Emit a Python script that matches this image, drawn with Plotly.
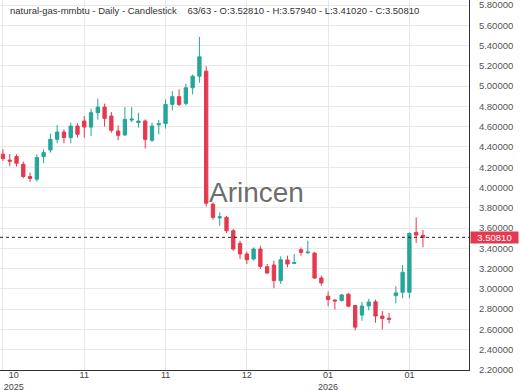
import plotly.graph_objects as go

# ---- data ----
opens = [4.328, 4.270, 4.305, 4.229, 4.108, 4.082, 4.305, 4.370, 4.475, 4.547,
         4.492, 4.606, 4.656, 4.596, 4.738, 4.793, 4.705, 4.557, 4.518, 4.665,
         4.640, 4.656, 4.466, 4.618, 4.630, 4.820, 4.896, 4.830, 4.984, 5.098,
         5.148, 3.836, 3.700, 3.705, 3.573, 3.449, 3.344, 3.294, 3.393, 3.218,
         3.235, 3.081, 3.284, 3.250, 3.386, 3.355, 3.353, 3.107, 2.927, 2.890,
         2.884, 2.947, 2.835, 2.741, 2.831, 2.872, 2.731, 2.710, 2.933, 2.966,
         2.966, 3.557, 3.5281]
highs = [4.377, 4.330, 4.328, 4.256, 4.148, 4.328, 4.377, 4.531, 4.616, 4.574,
         4.640, 4.633, 4.705, 4.778, 4.876, 4.827, 4.744, 4.613, 4.793, 4.793,
         4.738, 4.672, 4.640, 4.665, 4.869, 4.951, 4.968, 5.024, 5.115, 5.486,
         5.197, 3.852, 3.754, 3.720, 3.590, 3.474, 3.367, 3.409, 3.425, 3.245,
         3.278, 3.321, 3.327, 3.344, 3.409, 3.474, 3.360, 3.130, 2.972, 2.894,
         2.950, 2.960, 2.842, 2.872, 2.901, 2.894, 2.780, 2.764, 3.026, 3.235,
         3.557, 3.705, 3.5794]
lows = [4.262, 4.210, 4.207, 4.092, 4.055, 4.059, 4.239, 4.344, 4.436, 4.436,
        4.436, 4.492, 4.492, 4.508, 4.669, 4.600, 4.541, 4.466, 4.510, 4.646,
        4.590, 4.384, 4.449, 4.525, 4.581, 4.761, 4.803, 4.810, 4.918, 5.033,
        3.813, 3.681, 3.622, 3.550, 3.376, 3.294, 3.245, 3.278, 3.196, 3.147,
        3.006, 3.048, 3.213, 3.245, 3.327, 3.350, 3.097, 3.032, 2.829, 2.796,
        2.875, 2.819, 2.589, 2.685, 2.787, 2.665, 2.598, 2.659, 2.858, 2.907,
        2.907, 3.452, 3.4102]
closes = [4.285, 4.260, 4.239, 4.108, 4.089, 4.295, 4.344, 4.475, 4.547, 4.492,
          4.606, 4.525, 4.596, 4.738, 4.793, 4.682, 4.564, 4.515, 4.672, 4.675,
          4.656, 4.475, 4.606, 4.630, 4.820, 4.896, 4.820, 4.984, 5.098, 5.289,
          3.845, 3.705, 3.710, 3.573, 3.393, 3.344, 3.287, 3.393, 3.222, 3.156,
          3.081, 3.287, 3.245, 3.258, 3.360, 3.362, 3.107, 3.058, 2.894, 2.880,
          2.940, 2.829, 2.622, 2.831, 2.870, 2.731, 2.708, 2.700, 2.960, 3.163,
          3.547, 3.530, 3.5081]
bars = list(range(len(opens)))

grid_positions = [0, 12, 24, 36, 48, 60]
label_positions = [1.6, 12, 24, 36, 48, 60]   # first label sits inside the left edge
tick_labels = ["10<br>2025", "11", "11", "12", "01<br>2026", "01"]

y_ticks = [round(2.2 + 0.2 * k, 1) for k in range(19)]
last_close = 3.5081

title_text = ("natural-gas-mmbtu - Daily - Candlestick\u00a0\u00a0\u00a0 63/63 - "
              "O:3.52810 - H:3.57940 - L:3.41020 - C:3.50810")

GREEN = "#26a69a"
RED = "#e5394f"
FONT = "Liberation Sans, Arial, sans-serif"

fig = go.Figure(go.Candlestick(
    x=bars, open=opens, high=highs, low=lows, close=closes,
    increasing=dict(line=dict(color=GREEN, width=1), fillcolor=GREEN),
    decreasing=dict(line=dict(color=RED, width=1), fillcolor=RED),
    whiskerwidth=0,
))

fig.update_layout(
    width=520, height=390,
    margin=dict(l=0, r=51, t=0, b=20, autoexpand=False),
    paper_bgcolor="white", plot_bgcolor="white",
    showlegend=False,
    font=dict(family=FONT, size=9, color="#555555"),
    boxgap=0.3,
    xaxis=dict(
        range=[-0.44, 68.8], automargin=False,
        tickmode="array", tickvals=label_positions, ticktext=tick_labels,
        showgrid=False,
        minor=dict(tickmode="array", tickvals=grid_positions, showgrid=True,
                   gridcolor="#e8e8e8", gridwidth=1, ticks=""),
        showline=True, linecolor="#333333", linewidth=1,
        ticks="", zeroline=False, rangeslider=dict(visible=False),
        ticklabeloverflow="allow", ticklabelstandoff=-4,
        tickfont=dict(size=9, color="#444444"),
    ),
    yaxis=dict(
        side="right", range=[2.199, 5.85], automargin=False,
        tickmode="array", tickvals=y_ticks,
        ticktext=[f"{v:.5f}" for v in y_ticks],
        showgrid=True, gridcolor="#e8e8e8", gridwidth=1,
        showline=True, linecolor="#333333", linewidth=1,
        ticks="", zeroline=False, ticklabelstandoff=7,
        ticklabeloverflow="allow",
        tickfont=dict(size=9.5, color="#555555"),
    ),
)

# header text
fig.add_annotation(xref="paper", yref="paper", x=0, y=1, xshift=8, yshift=-10,
                   xanchor="left", yanchor="middle", text=title_text, showarrow=False,
                   font=dict(family=FONT, size=9.5, color="#333333"))

# last price dotted line
fig.add_shape(type="line", xref="paper", yref="y", x0=0, x1=1,
              y0=last_close, y1=last_close,
              line=dict(color="#222222", width=1, dash="dot"))

# last price label on the axis
fig.add_annotation(xref="paper", yref="y", x=1, y=last_close,
                   xanchor="left", yanchor="middle", xshift=1,
                   width=47, height=11, align="center",
                   text=f"{last_close:.5f}", showarrow=False,
                   bgcolor=RED, borderpad=0,
                   font=dict(family=FONT, size=9.5, color="white"))

# watermark
fig.add_annotation(xref="paper", yref="paper", x=256 / 469, y=1 - 192 / 370,
                   text="Arincen", showarrow=False,
                   font=dict(family=FONT, size=28, color="rgba(90,90,90,0.9)"))

fig.write_html("out.html",
               config={"displayModeBar": False},
               post_script="document.body.style.margin='0';"
                           "document.body.style.padding='0';")
